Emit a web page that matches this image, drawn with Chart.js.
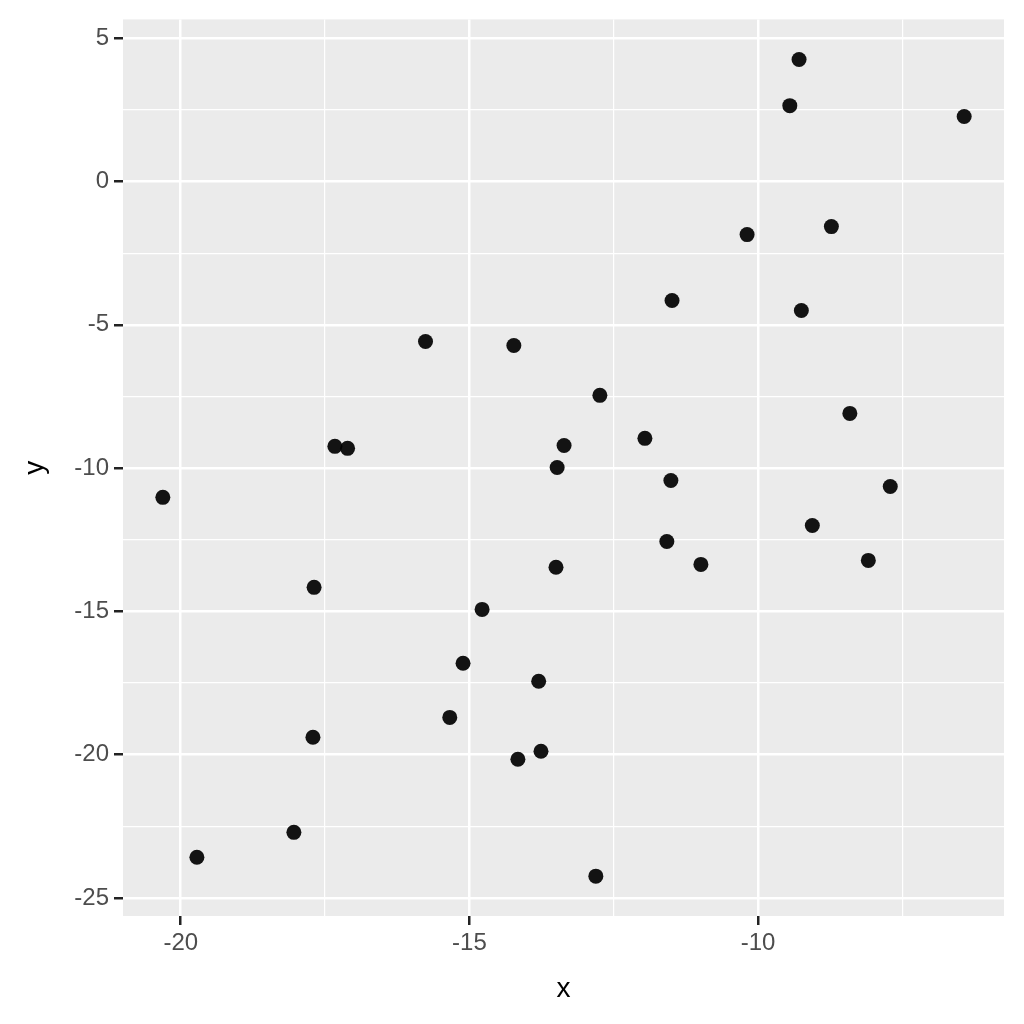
<!DOCTYPE html>
<html>
<head>
<meta charset="utf-8">
<script src="https://cdn.jsdelivr.net/npm/chart.js@4/dist/chart.umd.min.js"></script>
<style>
  html, body { margin: 0; padding: 0; background: #fff; }
  #wrap { width: 1024px; height: 1024px; }
</style>
</head>
<body>
<div id="wrap"><canvas id="scatterChart"></canvas></div>
<script>
// values
const xValues = [-20.31, -19.72, -18.04, -17.71, -17.69, -17.33, -17.11, -15.76, -15.34, -15.11,
  -14.78, -14.23, -14.16, -13.80, -13.76, -13.50, -13.48, -13.36, -12.81, -12.74,
  -11.96, -11.58, -11.49, -11.51, -10.99, -10.19, -9.45, -9.29, -9.25, -9.06,
  -8.73, -8.41, -8.09, -7.71, -6.43];
const yValues = [-11.02, -23.58, -22.71, -19.39, -14.16, -9.24, -9.31, -5.58, -18.70, -16.81,
  -14.93, -5.72, -20.16, -17.44, -19.88, -13.46, -9.98, -9.21, -24.24, -7.46,
  -8.96, -12.56, -4.15, -10.43, -13.36, -1.85, 2.65, 4.26, -4.50, -12.00,
  -1.57, -8.09, -13.22, -10.64, 2.27];
const xTicks = [-20, -15, -10];
const yTicks = [5, 0, -5, -10, -15, -20, -25];

const points = xValues.map((x, i) => ({ x: x, y: yValues[i] }));

const isMajor = (v, list) => list.some(t => Math.abs(t - v) < 1e-6);

// grey panel behind the plot area
const panelBg = {
  id: 'panelBg',
  beforeDraw(chart) {
    const a = chart.chartArea;
    const c = chart.ctx;
    c.save();
    c.fillStyle = '#EBEBEB';
    c.fillRect(a.left, a.top, a.right - a.left, a.bottom - a.top);
    c.restore();
  }
};

const ctx = document.getElementById('scatterChart').getContext('2d');

const chart = new Chart(ctx, {
  type: 'scatter',
  data: {
    datasets: [{
      data: points,
      backgroundColor: 'rgba(0,0,0,0.92)',
      borderColor: 'rgba(0,0,0,0.92)',
      pointRadius: 7.5,
      pointHoverRadius: 7.5,
      borderWidth: 0
    }]
  },
  options: {
    responsive: true,
    maintainAspectRatio: false,
    animation: false,
    layout: { padding: { left: 0, right: 20, top: 18, bottom: 0 } },
    plugins: {
      legend: { display: false },
      tooltip: { enabled: false }
    },
    scales: {
      x: {
        type: 'linear',
        min: -21.0,
        max: -5.74,
        border: { display: false },
        afterFit: s => { s.height = 108; },
        ticks: {
          stepSize: 2.5,
          includeBounds: false,
          autoSkip: false,
          maxRotation: 0,
          color: '#4D4D4D',
          padding: 4,
          font: { family: 'Liberation Sans', size: 24 },
          callback: v => isMajor(v, xTicks) ? String(v) : ''
        },
        grid: {
          color: '#FFFFFF',
          lineWidth: c => isMajor(c.tick.value, xTicks) ? 2.5 : 1.2,
          tickLength: 9,
          tickWidth: 2.5,
          tickColor: c => isMajor(c.tick.value, xTicks) ? '#222222' : 'rgba(0,0,0,0)'
        },
        title: {
          display: true,
          text: 'x',
          color: '#000',
          font: { family: 'Liberation Sans', size: 28 },
          padding: { top: 0, bottom: 18 }
        }
      },
      y: {
        type: 'linear',
        min: -25.63,
        max: 5.66,
        border: { display: false },
        afterFit: s => { s.width = 123; },
        ticks: {
          stepSize: 2.5,
          includeBounds: false,
          autoSkip: false,
          color: '#4D4D4D',
          padding: 5,
          font: { family: 'Liberation Sans', size: 24 },
          callback: v => isMajor(v, yTicks) ? String(v) : ''
        },
        grid: {
          color: '#FFFFFF',
          lineWidth: c => isMajor(c.tick.value, yTicks) ? 2.5 : 1.2,
          tickLength: 9,
          tickWidth: 2.5,
          tickColor: c => isMajor(c.tick.value, yTicks) ? '#222222' : 'rgba(0,0,0,0)'
        },
        title: {
          display: true,
          text: 'y',
          color: '#000',
          font: { family: 'Liberation Sans', size: 28 },
          padding: { top: 18, bottom: 0 }
        }
      }
    }
  },
  plugins: [panelBg]
});
</script>
</body>
</html>
